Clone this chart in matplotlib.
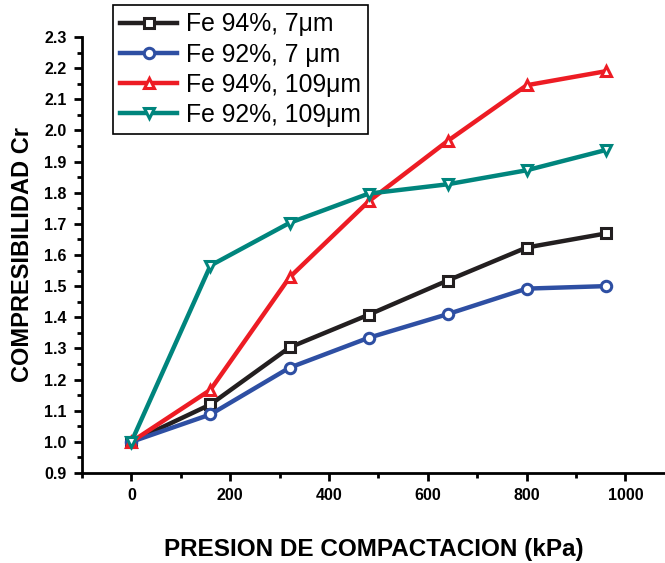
import matplotlib.pyplot as plt
from matplotlib.ticker import MultipleLocator

plt.rcParams['font.family'] = ['Liberation Sans', 'DejaVu Sans']

presion = [0, 160, 320, 480, 640, 800, 960]
fe94_7 = [1.0, 1.12, 1.303, 1.408, 1.518, 1.624, 1.669]
fe92_7 = [1.0, 1.088, 1.238, 1.334, 1.41, 1.492, 1.50]
fe94_109 = [1.0, 1.167, 1.528, 1.772, 1.966, 2.145, 2.19]
fe92_109 = [1.0, 1.566, 1.703, 1.797, 1.827, 1.872, 1.937]

labels = ['Fe 94%, 7\u03bcm', 'Fe 92%, 7 \u03bcm', 'Fe 94%, 109\u03bcm', 'Fe 92%, 109\u03bcm']
colors = ['#231f20', '#2e4fa3', '#ed1c24', '#00857d']
markers = ['s', 'o', '^', 'v']

fig = plt.figure(figsize=(6.65, 5.63), dpi=100)
ax = fig.add_axes([0.1233, 0.1599, 0.8767, 0.7744])

series = [fe94_7, fe92_7, fe94_109, fe92_109]
for vals, lab, c, m in zip(series, labels, colors, markers):
    ax.plot(presion, vals, color=c, lw=3.2, marker=m, ms=7.5, mfc='white',
            mec=c, mew=2.2, label=lab)

ax.set_xlim(-100, 1080)
ax.set_ylim(0.9, 2.3)
ax.xaxis.set_major_locator(MultipleLocator(200))
ax.xaxis.set_minor_locator(MultipleLocator(100))
ax.yaxis.set_major_locator(MultipleLocator(0.1))
ax.yaxis.set_minor_locator(MultipleLocator(0.05))
ax.tick_params(which='both', direction='out', width=2)
ax.tick_params(which='major', length=6, labelsize=11.5, pad=5)
ax.tick_params(which='minor', length=3.5)
for lab in ax.get_xticklabels() + ax.get_yticklabels():
    lab.set_fontweight('bold')
ax.spines['top'].set_visible(False)
ax.spines['right'].set_visible(False)
ax.spines['left'].set_linewidth(2)
ax.spines['bottom'].set_linewidth(2)

ax.set_xlabel('PRESION DE COMPACTACION (kPa)', fontsize=17.5, fontweight='bold', labelpad=25)
ax.set_ylabel('COMPRESIBILIDAD Cr', fontsize=17, fontweight='bold', labelpad=7)

leg = ax.legend(loc='upper left', bbox_to_anchor=(0.17, 0.991),
                bbox_transform=fig.transFigure, fontsize=17.8, frameon=True,
                fancybox=False, edgecolor='black', framealpha=1,
                handlelength=2.3, borderaxespad=0, labelspacing=0.25,
                borderpad=0.3, handletextpad=0.35)
leg.get_frame().set_linewidth(1.2)

fig.savefig('out.png', dpi=100)
